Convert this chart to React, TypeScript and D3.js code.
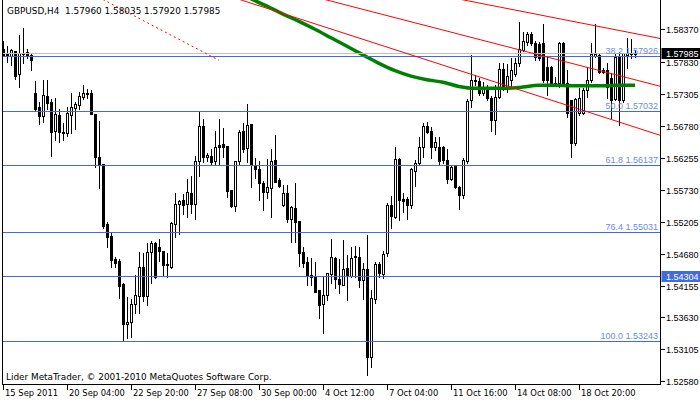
import React, { useEffect, useRef } from 'react';
import * as d3 from 'd3';

const titleText = 'GBPUSD,H4  1.57960 1.58035 1.57920 1.57985';
const copyrightText = 'Lider MetaTrader, © 2001-2010 MetaQuotes Software Corp.';

// one label every 16 H4 bars
const timeLabels = [
  '15 Sep 2011', '20 Sep 04:00', '22 Sep 20:00', '27 Sep 08:00', '30 Sep 00:00',
  '4 Oct 12:00', '7 Oct 04:00', '11 Oct 16:00', '14 Oct 08:00', '18 Oct 20:00',
];

const priceTicks = [
  1.5837, 1.5783, 1.57305, 1.5678, 1.56255, 1.5573, 1.55205, 1.5468, 1.54155, 1.5363, 1.53105, 1.5258,
];

const openPrices = [
  1.5805, 1.5796, 1.5793, 1.5801, 1.5763, 1.5798, 1.5800, 1.5795, 1.5732, 1.5709,
  1.5694, 1.5727, 1.5717, 1.5670, 1.5696, 1.5668, 1.5666, 1.5696, 1.5708, 1.5712,
  1.5726, 1.5732, 1.5732, 1.5698, 1.5627, 1.5615, 1.5517, 1.5497, 1.5459, 1.5456,
  1.5418, 1.5352, 1.5356, 1.5385, 1.5398, 1.5446, 1.5398, 1.5471, 1.5485, 1.5479,
  1.5472, 1.5451, 1.5446, 1.5517, 1.5550, 1.5556, 1.5550, 1.5568, 1.5550, 1.5620,
  1.5678, 1.5627, 1.5629, 1.5620, 1.5647, 1.5648, 1.5645, 1.5573, 1.5546, 1.5620,
  1.5670, 1.5642, 1.5681, 1.5614, 1.5607, 1.5584, 1.5569, 1.5576, 1.5622, 1.5589,
  1.5548, 1.5568, 1.5525, 1.5543, 1.5522, 1.5471, 1.5454, 1.5430, 1.5430, 1.5408,
  1.5385, 1.5400, 1.5434, 1.5461, 1.5426, 1.5416, 1.5444, 1.5431, 1.5464, 1.5462,
  1.5425, 1.5443, 1.5298, 1.5393, 1.5451, 1.5434, 1.5469, 1.5548, 1.5528, 1.5624,
  1.5558, 1.5558, 1.5548, 1.5604, 1.5617, 1.5643, 1.5678, 1.5670, 1.5643, 1.5643,
  1.5643, 1.5622, 1.5591, 1.5612, 1.5578, 1.5564, 1.5620, 1.5721, 1.5754, 1.5752,
  1.5732, 1.5742, 1.5724, 1.5688, 1.5726, 1.5772, 1.5740, 1.5754, 1.5763, 1.5782,
  1.5803, 1.5816, 1.5829, 1.5814, 1.5813, 1.5814, 1.5775, 1.5775, 1.5749, 1.5749,
  1.5814, 1.5749, 1.5721, 1.5650, 1.5699, 1.5699, 1.5737, 1.5754, 1.5793, 1.5795,
  1.5770, 1.5770, 1.5757, 1.5722, 1.5791, 1.5721, 1.5795, 1.5796, 1.5796,
];

const highPrices = [
  1.5818, 1.5810, 1.5805, 1.5801, 1.5828, 1.5839, 1.5805, 1.5796, 1.5752, 1.5717,
  1.5754, 1.5754, 1.5722, 1.5724, 1.5706, 1.5683, 1.5709, 1.5732, 1.5717, 1.5734,
  1.5745, 1.5739, 1.5737, 1.5698, 1.5686, 1.5615, 1.5520, 1.5502, 1.5462, 1.5459,
  1.5420, 1.5397, 1.5393, 1.5433, 1.5471, 1.5469, 1.5485, 1.5489, 1.5487, 1.5492,
  1.5472, 1.5469, 1.5520, 1.5568, 1.5556, 1.5566, 1.5591, 1.5596, 1.5629, 1.5701,
  1.5689, 1.5634, 1.5640, 1.5670, 1.5689, 1.5675, 1.5645, 1.5573, 1.5620, 1.5671,
  1.5683, 1.5714, 1.5681, 1.5625, 1.5620, 1.5587, 1.5624, 1.5640, 1.5663, 1.5592,
  1.5581, 1.5581, 1.5546, 1.5584, 1.5522, 1.5479, 1.5462, 1.5461, 1.5454, 1.5408,
  1.5430, 1.5436, 1.5492, 1.5462, 1.5459, 1.5490, 1.5466, 1.5479, 1.5481, 1.5479,
  1.5453, 1.5499, 1.5408, 1.5454, 1.5454, 1.5472, 1.5551, 1.5563, 1.5643, 1.5625,
  1.5568, 1.5561, 1.5609, 1.5622, 1.5660, 1.5683, 1.5685, 1.5676, 1.5660, 1.5660,
  1.5645, 1.5640, 1.5614, 1.5614, 1.5579, 1.5625, 1.5722, 1.5795, 1.5762, 1.5757,
  1.5750, 1.5745, 1.5727, 1.5745, 1.5782, 1.5782, 1.5780, 1.5790, 1.5790, 1.5849,
  1.5833, 1.5833, 1.5833, 1.5818, 1.5816, 1.5846, 1.5791, 1.5777, 1.5759, 1.5816,
  1.5816, 1.5770, 1.5721, 1.5724, 1.5740, 1.5740, 1.5775, 1.5814, 1.5846, 1.5796,
  1.5773, 1.5782, 1.5765, 1.5798, 1.5800, 1.5798, 1.5823, 1.5821, 1.58035,
];

const lowPrices = [
  1.5795, 1.5783, 1.5778, 1.5755, 1.5742, 1.5782, 1.5790, 1.5770, 1.5703, 1.5681,
  1.5685, 1.5706, 1.5629, 1.5655, 1.5652, 1.5655, 1.5661, 1.5666, 1.5673, 1.5706,
  1.5722, 1.5724, 1.5698, 1.5611, 1.5576, 1.5510, 1.5479, 1.5446, 1.5446, 1.5395,
  1.5324, 1.5329, 1.5331, 1.5370, 1.5370, 1.5390, 1.5383, 1.5420, 1.5428, 1.5456,
  1.5431, 1.5430, 1.5444, 1.5495, 1.5500, 1.5533, 1.5528, 1.5535, 1.5525, 1.5596,
  1.5619, 1.5620, 1.5615, 1.5614, 1.5615, 1.5627, 1.5561, 1.5545, 1.5538, 1.5615,
  1.5635, 1.5619, 1.5578, 1.5592, 1.5556, 1.5540, 1.5560, 1.5528, 1.5586, 1.5578,
  1.5546, 1.5520, 1.5487, 1.5487, 1.5448, 1.5446, 1.5416, 1.5416, 1.5405, 1.5362,
  1.5337, 1.5392, 1.5420, 1.5411, 1.5403, 1.5416, 1.5392, 1.5430, 1.5430, 1.5413,
  1.5393, 1.5268, 1.5281, 1.5387, 1.5430, 1.5428, 1.5464, 1.5510, 1.5527, 1.5523,
  1.5536, 1.5525, 1.5543, 1.5579, 1.5614, 1.5627, 1.5666, 1.5625, 1.5638, 1.5614,
  1.5617, 1.5584, 1.5589, 1.5576, 1.5541, 1.5560, 1.5617, 1.5709, 1.5745, 1.5729,
  1.5729, 1.5721, 1.5670, 1.5665, 1.5724, 1.5737, 1.5734, 1.5740, 1.5760, 1.5777,
  1.5801, 1.5811, 1.5811, 1.5786, 1.5786, 1.5750, 1.5729, 1.5744, 1.5747, 1.5742,
  1.5744, 1.5693, 1.5627, 1.5647, 1.5696, 1.5698, 1.5726, 1.5750, 1.5791, 1.5765,
  1.5765, 1.5724, 1.5691, 1.5721, 1.5680, 1.5717, 1.5773, 1.5790, 1.5792,
];

const closePrices = [
  1.5795, 1.5795, 1.5803, 1.5760, 1.5798, 1.5796, 1.5795, 1.5786, 1.5706, 1.5694,
  1.5729, 1.5716, 1.5668, 1.5698, 1.5668, 1.5666, 1.5699, 1.5709, 1.5714, 1.5727,
  1.5732, 1.5731, 1.5698, 1.5627, 1.5614, 1.5513, 1.5495, 1.5458, 1.5453, 1.5415,
  1.5352, 1.5356, 1.5385, 1.5400, 1.5446, 1.5398, 1.5471, 1.5485, 1.5430, 1.5472,
  1.5449, 1.5449, 1.5518, 1.5550, 1.5555, 1.5548, 1.5569, 1.5550, 1.5620, 1.5678,
  1.5627, 1.5630, 1.5619, 1.5643, 1.5643, 1.5643, 1.5571, 1.5546, 1.5620, 1.5668,
  1.5640, 1.5680, 1.5614, 1.5607, 1.5584, 1.5569, 1.5578, 1.5620, 1.5586, 1.5579,
  1.5568, 1.5525, 1.5545, 1.5520, 1.5469, 1.5453, 1.5431, 1.5433, 1.5405, 1.5383,
  1.5400, 1.5436, 1.5462, 1.5426, 1.5418, 1.5443, 1.5431, 1.5461, 1.5462, 1.5425,
  1.5443, 1.5298, 1.5395, 1.5451, 1.5436, 1.5467, 1.5548, 1.5530, 1.5624, 1.5556,
  1.5555, 1.5548, 1.5607, 1.5617, 1.5643, 1.5678, 1.5668, 1.5643, 1.5652, 1.5620,
  1.5622, 1.5591, 1.5611, 1.5578, 1.5564, 1.5622, 1.5719, 1.5754, 1.5752, 1.5732,
  1.5742, 1.5724, 1.5688, 1.5726, 1.5772, 1.5740, 1.5760, 1.5770, 1.5782, 1.5805,
  1.5818, 1.5829, 1.5814, 1.5791, 1.5790, 1.5754, 1.5754, 1.5749, 1.5747, 1.5814,
  1.5745, 1.5699, 1.5650, 1.5722, 1.5724, 1.5737, 1.5754, 1.5796, 1.5796, 1.5767,
  1.5767, 1.5742, 1.5721, 1.5791, 1.5721, 1.5798, 1.5798, 1.5798, 1.57985,
];

// moving average, read every 4 bars
const maBars = [62, 66, 70, 74, 78, 82, 86, 90, 94, 98, 102, 106, 110, 114, 118, 122, 126, 130, 134, 138, 142, 146, 150, 154, 158];
const maValues = [
  1.5887, 1.5875, 1.5862, 1.5850, 1.5837, 1.5823, 1.5809, 1.5795, 1.5781, 1.5769,
  1.5760, 1.5754, 1.5750, 1.5743, 1.5740, 1.5740, 1.5740, 1.5742, 1.5745, 1.5745,
  1.5744, 1.5744, 1.5744, 1.5745, 1.5745,
];

const fiboLevels = ['38.2', '50.0', '61.8', '76.4', '100.0'];
const fiboPrices = [1.57926, 1.57032, 1.56137, 1.55031, 1.53243];

const hLinePrice = 1.54304;
const bidPrice = 1.57985;

// trend lines: two anchors (bar, price)
const trendBars1 = [62, 84, 120, 25];
const trendPrices1 = [1.588, 1.588, 1.5879, 1.5886];
const trendBars2 = [158, 158, 158, 54];
const trendPrices2 = [1.5676, 1.5754, 1.583, 1.5786];
const trendDotted = [false, false, false, true];

const NUM_FONT = "'Liberation Sans', Arial, sans-serif";
const TXT_FONT = "'DejaVu Sans', Verdana, sans-serif";

const MetaTraderChart: React.FC = () => {
  const svgRef = useRef<SVGSVGElement>(null);

  useEffect(() => {
    if (!svgRef.current) return;
    const svg = d3.select(svgRef.current);
    svg.selectAll('*').remove();

    const width = 700;
    const height = 402;
    const plotLeft = 2.5;
    const plotRight = 660.5;
    const plotBottom = 384.5;

    svg.attr('width', width).attr('height', height);
    svg.append('rect').attr('width', width).attr('height', height).attr('fill', '#ffffff');

    const x = d3.scaleLinear().domain([0, 158]).range([3, 635]);
    const y = d3.scaleLinear().domain([1.5258, 1.5837]).range([381.3, 29.3]);

    svg
      .append('defs')
      .append('clipPath')
      .attr('id', 'plot-clip')
      .append('rect')
      .attr('x', 3)
      .attr('y', 0)
      .attr('width', plotRight - 3)
      .attr('height', plotBottom);

    const plot = svg.append('g').attr('clip-path', 'url(#plot-clip)');

    // candles
    const bars = d3.range(openPrices.length);
    const candle = plot
      .selectAll('.candle')
      .data(bars)
      .enter()
      .append('g')
      .attr('class', 'candle')
      .attr('shape-rendering', 'crispEdges');

    candle
      .append('line')
      .attr('x1', (i: number) => Math.round(x(i)) + 0.5)
      .attr('x2', (i: number) => Math.round(x(i)) + 0.5)
      .attr('y1', (i: number) => Math.round(y(highPrices[i])))
      .attr('y2', (i: number) => Math.round(y(lowPrices[i])) + 1)
      .attr('stroke', '#000')
      .attr('stroke-width', 1);

    candle
      .append('rect')
      .attr('x', (i: number) => Math.round(x(i)) - 0.5)
      .attr('width', 2)
      .attr('y', (i: number) => Math.round(y(Math.max(openPrices[i], closePrices[i]))) + 0.5)
      .attr('height', (i: number) =>
        Math.max(0, Math.round(y(Math.min(openPrices[i], closePrices[i]))) - Math.round(y(Math.max(openPrices[i], closePrices[i]))))
      )
      .attr('fill', (i: number) => (closePrices[i] >= openPrices[i] ? '#ffffff' : '#000000'))
      .attr('stroke', '#000')
      .attr('stroke-width', 1);

    // moving average
    const maLine = d3
      .line<number>()
      .x((d: number, k: number) => x(maBars[k]))
      .y((d: number) => y(d))
      .curve(d3.curveMonotoneX);

    plot
      .append('path')
      .datum(maValues)
      .attr('fill', 'none')
      .attr('stroke', '#008000')
      .attr('stroke-width', 3.5)
      .attr('d', maLine);

    // bid line
    plot
      .append('line')
      .attr('x1', 3)
      .attr('x2', plotRight)
      .attr('y1', Math.round(y(bidPrice)) + 0.5)
      .attr('y2', Math.round(y(bidPrice)) + 0.5)
      .attr('stroke', '#c0c0c0')
      .attr('stroke-width', 1)
      .attr('shape-rendering', 'crispEdges');

    // fibo levels + horizontal line
    const blueLines = [...fiboPrices, hLinePrice];
    plot
      .selectAll('.hline')
      .data(blueLines)
      .enter()
      .append('line')
      .attr('class', 'hline')
      .attr('x1', 3)
      .attr('x2', plotRight)
      .attr('y1', (d: number) => Math.round(y(d)) + 0.5)
      .attr('y2', (d: number) => Math.round(y(d)) + 0.5)
      .attr('stroke', '#4169e1')
      .attr('stroke-width', 1)
      .attr('shape-rendering', 'crispEdges');

    plot
      .selectAll('.fibo-label')
      .data(fiboPrices)
      .enter()
      .append('text')
      .attr('class', 'fibo-label')
      .attr('x', 658)
      .attr('y', (d: number) => Math.round(y(d)) - 2)
      .attr('text-anchor', 'end')
      .attr('font-family', NUM_FONT)
      .attr('font-size', 9)
      .attr('fill', '#6a8be6')
      .text((d: number, k: number) => `${fiboLevels[k]} ${d.toFixed(5)}`);

    // trend lines (extended through the plot)
    trendBars1.forEach((b1: number, k: number) => {
      const x1 = x(b1);
      const y1 = y(trendPrices1[k]);
      const x2 = x(trendBars2[k]);
      const y2 = y(trendPrices2[k]);
      const slope = (y2 - y1) / (x2 - x1);
      const xa = trendDotted[k] ? x1 : 3;
      const xb = trendDotted[k] ? x2 : plotRight;
      plot
        .append('line')
        .attr('x1', xa)
        .attr('y1', y1 + (xa - x1) * slope)
        .attr('x2', xb)
        .attr('y2', y1 + (xb - x1) * slope)
        .attr('stroke', '#ff0000')
        .attr('stroke-width', 1)
        .attr('stroke-dasharray', trendDotted[k] ? '2,3' : null);
    });

    // frame
    const frame = svg.append('g').attr('shape-rendering', 'crispEdges');
    frame.append('line').attr('x1', plotLeft).attr('x2', plotLeft).attr('y1', 0).attr('y2', plotBottom).attr('stroke', '#000');
    frame.append('line').attr('x1', plotRight).attr('x2', plotRight).attr('y1', 0).attr('y2', plotBottom).attr('stroke', '#000');
    frame.append('line').attr('x1', plotLeft).attr('x2', plotRight).attr('y1', plotBottom).attr('y2', plotBottom).attr('stroke', '#000');

    // price axis
    const yAxis = svg.append('g');
    priceTicks.forEach((p: number) => {
      const yy = Math.round(y(p)) + 0.5;
      yAxis.append('line').attr('x1', plotRight).attr('x2', plotRight + 4).attr('y1', yy).attr('y2', yy).attr('stroke', '#000').attr('shape-rendering', 'crispEdges');
      yAxis
        .append('text')
        .attr('x', 666)
        .attr('y', yy + 3.5)
        .attr('font-family', NUM_FONT)
        .attr('font-size', 9)
        .attr('fill', '#000')
        .text(p.toFixed(5));
    });

    const axisBox = (price: number, bg: string) => {
      const yy = Math.round(y(price)) + 0.5;
      yAxis.append('rect').attr('x', plotRight + 1).attr('y', yy - 5.5).attr('width', 40).attr('height', 11).attr('fill', bg);
      yAxis
        .append('text')
        .attr('x', 666)
        .attr('y', yy + 3.5)
        .attr('font-family', NUM_FONT)
        .attr('font-size', 9)
        .attr('fill', '#ffffff')
        .text(price.toFixed(5));
    };
    axisBox(hLinePrice, '#4169e1');
    axisBox(bidPrice, '#000000');

    // time axis
    const xAxis = svg.append('g');
    timeLabels.forEach((label: string, k: number) => {
      const xx = Math.round(x(k * 16)) + 0.5;
      xAxis.append('line').attr('x1', xx).attr('x2', xx).attr('y1', plotBottom).attr('y2', plotBottom + 5).attr('stroke', '#000').attr('shape-rendering', 'crispEdges');
      xAxis
        .append('text')
        .attr('x', xx + 1.5)
        .attr('y', 396)
        .attr('font-family', TXT_FONT)
        .attr('font-size', 8.4)
        .attr('fill', '#000')
        .text(label);
    });

    // texts
    svg
      .append('text')
      .attr('x', 7)
      .attr('y', 14)
      .attr('font-family', TXT_FONT)
      .attr('font-size', 8.9)
      .attr('fill', '#000')
      .style('white-space', 'pre')
      .text(titleText);
    svg
      .append('text')
      .attr('x', 6)
      .attr('y', 380)
      .attr('font-family', TXT_FONT)
      .attr('font-size', 8.9)
      .attr('fill', '#000')
      .text(copyrightText);
  }, []);

  return <svg ref={svgRef} style={{ position: 'fixed', left: 0, top: 0, display: 'block' }} />;
};

export default function App() {
  return <MetaTraderChart />;
}
